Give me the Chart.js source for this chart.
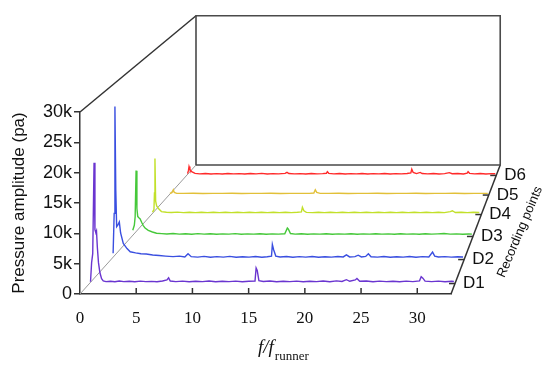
<!DOCTYPE html>
<html lang="en">
<head>
<meta charset="UTF-8">
<title>Pressure amplitude spectra at recording points</title>
<script src="https://cdn.jsdelivr.net/npm/chart.js@4.4.0/dist/chart.umd.min.js"></script>
<style>
  html, body { margin: 0; padding: 0; background: #fff; }
  #wrap { position: relative; width: 550px; height: 371px; }
</style>
</head>
<body>
<div id="wrap"><canvas id="chart" width="550" height="371"></canvas></div>
<script>
const pointNames = ['D1', 'D2', 'D3', 'D4', 'D5', 'D6'];
const lineColors = ['#6a35d0', '#3a4fe0', '#46c83a', '#c2e02a', '#e2c038', '#ff2a2a'];
const xTicks = [0, 5, 10, 15, 20, 25, 30];
const yTicks = [0, 5000, 10000, 15000, 20000, 25000, 30000];
const X_MAX = 33;
const Y_MAX = 30000;

// [f/f_runner, amplitude in pa]
const d1 = [[0.1,300],[0.2,3500],[0.3,5000],[0.42,20200],[0.5,9000],[0.58,8500],[0.64,8800],[0.72,6000],[0.82,3500],[0.95,1800],[1.1,800],[1.25,450],[1.5,320],[1.9,380],[2.3,300],[2.7,420],[3.1,330],[3.6,380],[4.1,300],[4.6,400],[5.1,320],[5.6,360],[6.1,300],[6.6,420],[7.0,600],[7.15,950],[7.3,420],[7.8,320],[8.4,400],[9.0,300],[9.6,380],[10.2,330],[10.8,420],[11.4,300],[12.0,380],[12.6,320],[13.2,400],[13.8,300],[14.4,380],[14.95,420],[15.05,2600],[15.15,2200],[15.3,500],[15.7,350],[16.3,420],[16.9,300],[17.5,380],[18.1,320],[18.7,400],[19.3,300],[19.9,380],[20.5,330],[21.1,420],[21.7,300],[22.3,450],[22.8,350],[23.2,650],[23.5,380],[24.0,600],[24.15,850],[24.4,380],[25.0,420],[25.6,300],[26.2,400],[26.8,320],[27.4,380],[28.0,300],[28.6,400],[29.2,320],[29.8,450],[29.95,1150],[30.1,900],[30.3,400],[30.9,330],[31.5,400],[32.1,300],[32.7,380],[32.9,350]];
const d2 = [[0.2,1100],[0.3,8000],[0.37,26500],[0.45,12000],[0.53,5700],[0.65,6000],[0.78,6500],[0.9,4600],[1.15,2800],[1.5,1900],[1.8,1350],[2.3,1150],[2.8,1000],[3.3,950],[3.9,800],[4.5,700],[5.1,600],[5.8,500],[6.4,600],[6.9,450],[7.2,1000],[7.5,500],[8.1,420],[8.7,550],[9.3,400],[9.9,500],[10.5,420],[11.1,550],[11.7,400],[12.3,480],[12.9,420],[13.5,520],[14.1,400],[14.6,480],[15.0,600],[15.08,2600],[15.2,1700],[15.4,600],[15.8,450],[16.4,520],[17.0,400],[17.6,500],[18.2,420],[18.8,520],[19.4,400],[20.0,480],[20.6,420],[21.2,520],[21.7,450],[22.0,800],[22.3,450],[22.8,500],[23.1,750],[23.4,450],[23.8,550],[24.05,1000],[24.3,480],[24.9,420],[25.5,520],[26.1,400],[26.7,480],[27.3,420],[27.9,520],[28.5,400],[29.1,500],[29.7,450],[30.05,1300],[30.25,600],[30.6,450],[31.2,500],[31.8,420],[32.4,480],[32.9,450]];
const d3 = [[0.1,1100],[0.25,2000],[0.33,3500],[0.42,11800],[0.5,5000],[0.58,3600],[0.66,3400],[0.8,3200],[0.97,2500],[1.1,2000],[1.29,1500],[1.6,1100],[2.0,800],[2.4,570],[2.9,500],[3.4,450],[4.0,520],[4.6,420],[5.2,480],[5.8,400],[6.4,500],[7.0,420],[7.6,480],[8.2,400],[8.8,460],[9.4,420],[10.0,500],[10.6,400],[11.2,470],[11.8,420],[12.4,480],[13.0,400],[13.6,460],[14.2,420],[14.8,480],[15.05,1500],[15.15,1300],[15.35,520],[15.8,420],[16.4,480],[17.0,400],[17.6,460],[18.2,420],[18.8,480],[19.4,400],[20.0,460],[20.6,420],[21.2,480],[21.8,400],[22.4,460],[23.0,420],[23.6,480],[24.2,420],[24.8,460],[25.4,400],[26.0,480],[26.6,420],[27.2,460],[27.8,400],[28.4,480],[29.0,420],[29.6,460],[30.2,520],[30.8,420],[31.4,460],[32.0,400],[32.6,450],[32.9,420]];
const d4 = [[0.1,450],[0.25,900],[0.3,4000],[0.35,10400],[0.42,2500],[0.52,1600],[0.7,1100],[1.0,550],[1.5,420],[2.0,380],[2.6,450],[3.2,360],[3.8,420],[4.4,350],[5.0,430],[5.6,360],[6.2,420],[6.8,350],[7.4,430],[8.0,360],[8.6,420],[9.2,350],[9.8,430],[10.4,360],[11.0,420],[11.6,350],[12.2,430],[12.8,360],[13.4,420],[14.0,350],[14.6,420],[15.0,500],[15.1,1350],[15.25,700],[15.5,400],[16.1,360],[16.7,420],[17.3,350],[17.9,430],[18.5,360],[19.1,420],[19.7,350],[20.3,430],[20.9,360],[21.5,420],[22.1,350],[22.7,430],[23.3,360],[23.9,420],[24.5,350],[25.1,430],[25.7,360],[26.3,420],[26.9,350],[27.5,430],[28.1,360],[28.7,420],[29.3,350],[29.9,550],[30.1,700],[30.4,380],[31.0,420],[31.6,350],[32.2,430],[32.8,380]];
const d5 = [[0.1,300],[0.3,450],[0.38,700],[0.45,1000],[0.55,500],[0.8,330],[1.5,320],[2.5,340],[3.5,310],[4.5,330],[5.5,320],[6.5,340],[7.5,310],[8.5,330],[9.5,320],[10.5,340],[11.5,310],[12.5,330],[13.5,320],[14.5,330],[14.95,380],[15.1,1000],[15.25,500],[15.6,330],[16.5,320],[17.5,340],[18.5,310],[19.5,330],[20.5,320],[21.5,340],[22.5,310],[23.5,330],[24.5,320],[25.5,340],[26.5,310],[27.5,330],[28.5,320],[29.5,340],[30.5,310],[31.5,330],[32.5,320],[32.9,330]];
const d6 = [[0.1,350],[0.2,1000],[0.26,1750],[0.35,1200],[0.54,750],[0.9,400],[1.4,320],[2.0,380],[2.6,300],[3.2,360],[3.8,300],[4.4,380],[5.0,320],[5.6,360],[6.2,300],[6.8,380],[7.4,320],[8.0,400],[8.6,300],[9.2,360],[9.8,320],[10.5,400],[10.7,600],[10.9,380],[11.5,320],[12.1,360],[12.7,300],[13.3,380],[13.9,320],[14.5,360],[14.9,420],[15.0,750],[15.15,420],[15.7,320],[16.3,380],[16.9,300],[17.5,360],[18.1,320],[18.7,380],[19.3,300],[19.9,360],[20.5,320],[21.1,380],[21.7,300],[22.3,360],[22.9,320],[23.5,380],[23.9,500],[24.0,1250],[24.15,600],[24.5,360],[24.9,600],[25.1,380],[25.7,320],[26.3,380],[26.9,300],[27.5,360],[28.0,550],[28.3,340],[28.9,380],[29.5,300],[29.9,450],[30.0,750],[30.15,420],[30.7,320],[31.3,380],[31.9,300],[32.5,360],[32.9,330]];
const spectra = [d1, d2, d3, d4, d5, d6];

// how far back each recording plane sits (0 = front wall, 1 = back wall)
const depth = [0.081, 0.267, 0.446, 0.616, 0.767, 0.919];

// back wall is drawn 116px right / 129px up from the front one and 18% smaller
const SHIFT_X = 116 / 371 * X_MAX;
const SHIFT_Y = 129 / 182 * Y_MAX;
const SHRINK = 0.18;

function project(f, a, t) {
  const s = 1 - SHRINK * t;
  return { x: SHIFT_X * t + s * f, y: SHIFT_Y * t + s * a };
}

function frameLine(pts, color, width) {
  return {
    data: pts.map(p => project(p[0], p[1], p[2])),
    borderColor: color, borderWidth: width,
    showLine: true, pointRadius: 0, clip: false, tension: 0
  };
}

const traceSets = spectra.map((s, i) => ({
  label: pointNames[i],
  data: s.map(p => project(p[0], p[1], depth[i])),
  borderColor: lineColors[i],
  borderWidth: 1.4,
  showLine: true, pointRadius: 0, clip: false, tension: 0
}));

const frameSets = [
  frameLine([[0, 0, 1], [X_MAX, 0, 1], [X_MAX, Y_MAX, 1], [0, Y_MAX, 1], [0, 0, 1]], '#4a4a4a', 1.6),
  frameLine([[0, 0, 0], [0, 0, 1]], '#9a9a9a', 1),
  frameLine([[0, Y_MAX, 0], [0, Y_MAX, 1]], '#333', 1.5),
  frameLine([[X_MAX, 0, 0], [X_MAX, 0, 1]], '#333', 1.5)
];

const decor = {
  id: 'decor',
  afterDatasetsDraw(chart) {
    const ctx = chart.ctx;
    const xs = chart.scales.x, ys = chart.scales.y;
    const px = p => ({ x: xs.getPixelForValue(p.x), y: ys.getPixelForValue(p.y) });
    ctx.save();
    // inward ticks on the frequency axis
    ctx.strokeStyle = '#333';
    ctx.lineWidth = 1.5;
    xTicks.slice(1).forEach(v => {
      const x = xs.getPixelForValue(v);
      ctx.beginPath();
      ctx.moveTo(x, ys.bottom);
      ctx.lineTo(x, ys.bottom - 6);
      ctx.stroke();
    });
    // recording point ticks and labels on the slanted edge
    ctx.fillStyle = '#111';
    ctx.font = '17px "Liberation Sans", Arial, sans-serif';
    ctx.textBaseline = 'middle';
    depth.forEach((t, i) => {
      const e = px(project(X_MAX, 0, t));
      ctx.beginPath();
      ctx.moveTo(e.x, e.y);
      ctx.lineTo(e.x - 6, e.y);
      ctx.stroke();
      ctx.fillText(pointNames[i], e.x + 8, e.y);
    });
    // slanted axis title
    ctx.save();
    ctx.translate(520, 232);
    ctx.rotate(-67 * Math.PI / 180);
    ctx.textAlign = 'center';
    ctx.font = '13px "Liberation Sans", Arial, sans-serif';
    ctx.fillText('Recording points', 0, 0);
    ctx.restore();
    // f / f_runner
    ctx.textBaseline = 'alphabetic';
    ctx.textAlign = 'left';
    ctx.font = 'italic 19px "Liberation Serif", "Times New Roman", serif';
    ctx.fillText('f/f', 258, 353);
    const w = ctx.measureText('f/f').width;
    ctx.font = '13px "Liberation Serif", "Times New Roman", serif';
    ctx.fillText('runner', 258 + w + 1, 360);
    ctx.restore();
  }
};

// bounds set after the data limits so the line controller keeps points drawn past the front wall
new Chart(document.getElementById('chart'), {
  type: 'scatter',
  data: { datasets: traceSets.concat(frameSets) },
  options: {
    responsive: false,
    animation: false,
    devicePixelRatio: 1,
    layout: { padding: { left: 0, top: 112, right: 99, bottom: 0 } },
    plugins: { legend: { display: false }, tooltip: { enabled: false } },
    scales: {
      x: {
        type: 'linear',
        bounds: 'data',
        afterDataLimits: s => { s.min = 0; s.max = X_MAX; },
        afterBuildTicks: s => { s.ticks = xTicks.map(v => ({ value: v })); },
        afterFit: s => { s.height = 77; },
        grid: { display: false },
        border: { color: '#333', width: 1.5 },
        ticks: { color: '#111', padding: 6, maxRotation: 0, font: { family: '"Liberation Serif", "Times New Roman", serif', size: 17 } }
      },
      y: {
        type: 'linear',
        bounds: 'data',
        afterDataLimits: s => { s.min = 0; s.max = Y_MAX; },
        afterBuildTicks: s => { s.ticks = yTicks.map(v => ({ value: v })); },
        afterFit: s => { s.width = 80; },
        grid: { drawOnChartArea: false, tickLength: 6, color: '#333', lineWidth: 1.5 },
        border: { color: '#333', width: 1.5 },
        ticks: {
          color: '#111', padding: 2,
          font: { family: '"Liberation Sans", Arial, sans-serif', size: 18 },
          callback: v => v === 0 ? '0' : (v / 1000) + 'k'
        },
        title: {
          display: true, text: 'Pressure amplitude (pa)', color: '#111',
          font: { family: '"Liberation Sans", Arial, sans-serif', size: 17 },
          padding: { top: 9, bottom: 0 }
        }
      }
    }
  },
  plugins: [decor]
});
</script>
</body>
</html>
